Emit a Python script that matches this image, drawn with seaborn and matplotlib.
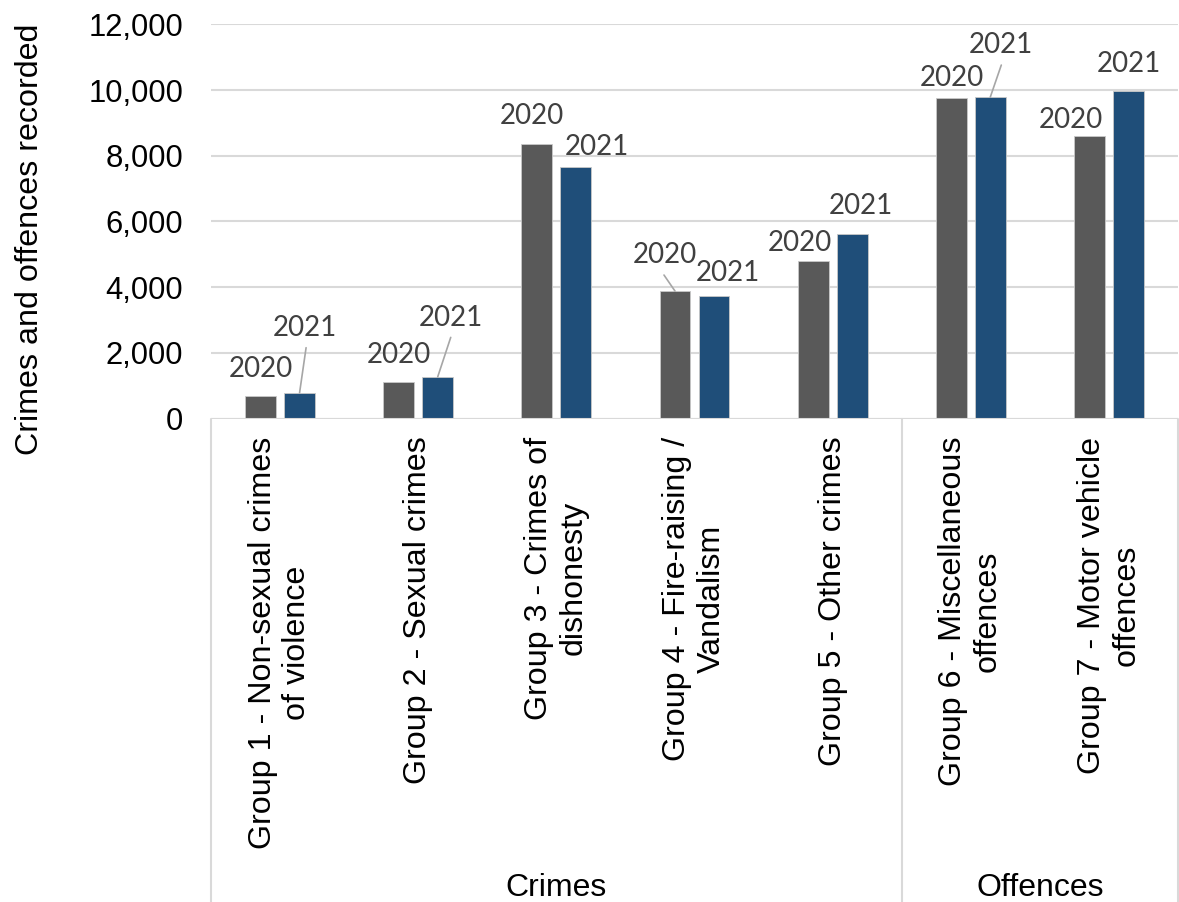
import matplotlib
matplotlib.use("Agg")
import matplotlib.pyplot as plt
import seaborn as sns
import pandas as pd
from matplotlib.ticker import FuncFormatter

# ---- data ----
categories = [
    "Group 1 - Non-sexual crimes\nof violence",
    "Group 2 - Sexual crimes",
    "Group 3 - Crimes of\ndishonesty",
    "Group 4 - Fire-raising /\nVandalism",
    "Group 5 - Other crimes",
    "Group 6 - Miscellaneous\noffences",
    "Group 7 - Motor vehicle\noffences",
]
years = ["2020", "2021"]
values_2020 = [695, 1100, 8350, 3880, 4795, 9745, 8600]
values_2021 = [785, 1270, 7665, 3740, 5615, 9785, 9970]
group_names = ["Crimes", "Offences"]
group_sizes = [5, 2]
y_ticks = [0, 2000, 4000, 6000, 8000, 10000, 12000]

df = pd.DataFrame({
    "category": categories * 2,
    "year": [years[0]] * len(categories) + [years[1]] * len(categories),
    "value": values_2020 + values_2021,
})

# ---- layout / style (label offsets in pixels relative to bar top) ----
label_offsets = {
    "2020": [(0, 29), (0.5, 29), (-4.5, 30), (-10.5, 38), (-13.5, 20), (0.5, 22), (-18.5, 18)],
    "2021": [(5.5, 67), (13.5, 61), (21.5, 22), (13.5, 25), (8.5, 30), (10.5, 54), (0.5, 29)],
}
leader_ends = {
    "2020": {3: (-11, 16)},
    "2021": {0: (6.5, 45), 1: (13, 39.4), 5: (11, 32)},
}
colors = {"2020": "#595959", "2021": "#1F4E79"}
grid_col = "#d9d9d9"

sns.set_theme(style="white")
plt.rcParams["font.family"] = ["Liberation Sans", "DejaVu Sans"]

fig = plt.figure(figsize=(11.79, 9.02), dpi=100)
ax = fig.add_axes([211 / 1179, 1 - 418.5 / 902, 967 / 1179, (418.5 - 24.3) / 902])

sns.barplot(data=df, x="category", y="value", hue="year", order=categories,
            hue_order=years, palette=colors, saturation=1, width=0.565, gap=0.207,
            edgecolor="#c8c8c8", linewidth=0.6, legend=False, ax=ax, zorder=3)

ax.set_ylim(y_ticks[0], y_ticks[-1])
ax.set_xlim(-0.5, len(categories) - 0.5)
ax.set_yticks(y_ticks)
ax.yaxis.set_major_formatter(FuncFormatter(lambda v, p: f"{int(v):,}"))
ax.grid(axis="y", color=grid_col, linewidth=1.5, zorder=0)
ax.grid(axis="x", visible=False)
for s in ax.spines.values():
    s.set_visible(False)
ax.axhline(0, color=grid_col, linewidth=1.5, zorder=4)
ax.set_xlabel("")
ax.set_ylabel("")
ax.tick_params(axis="y", length=0, pad=20, labelsize=22.3, labelcolor="black")
ax.tick_params(axis="x", length=0, pad=13, labelsize=23.2, labelcolor="black")
ax.set_xticks(range(len(categories)))
ax.set_xticklabels(categories, rotation=90, ha="center", va="top",
                   multialignment="center", linespacing=1.2)

# data labels
for cont, yr in zip(ax.containers, years):
    for i, bar in enumerate(cont):
        xc = bar.get_x() + bar.get_width() / 2
        top = bar.get_height()
        dx, dy = label_offsets[yr][i]
        ax.annotate(yr, xy=(xc, top), xytext=(dx, dy - 10), textcoords="offset pixels",
                    ha="center", va="baseline", fontsize=20, color="#404040",
                    family=["Lato", "DejaVu Sans"], zorder=5)
        if i in leader_ends[yr]:
            ex, ey = leader_ends[yr][i]
            ax.annotate("", xy=(xc, top), xytext=(ex, ey), textcoords="offset pixels",
                        arrowprops=dict(arrowstyle="-", color="#a6a6a6", lw=1.2,
                                        shrinkA=0, shrinkB=0), zorder=5)

# multi-level category axis
trans = ax.get_xaxis_transform()
bottom = -(902 - 418.5) / (418.5 - 24.3)
bounds = [-0.5]
for n in group_sizes:
    bounds.append(bounds[-1] + n)
for b in bounds:
    ax.plot([b, b], [0, bottom], transform=trans, color=grid_col, lw=1.5, clip_on=False)
for name, a, b in zip(group_names, bounds[:-1], bounds[1:]):
    ax.text((a + b) / 2, -1.19, name, transform=trans, ha="center", va="center",
            fontsize=23, color="black")

fig.text(30 / 1179, 1 - 239 / 902, "Crimes and offences recorded", rotation=90,
         ha="center", va="center", fontsize=23.2, color="black")

fig.savefig("out.png", dpi=100)
